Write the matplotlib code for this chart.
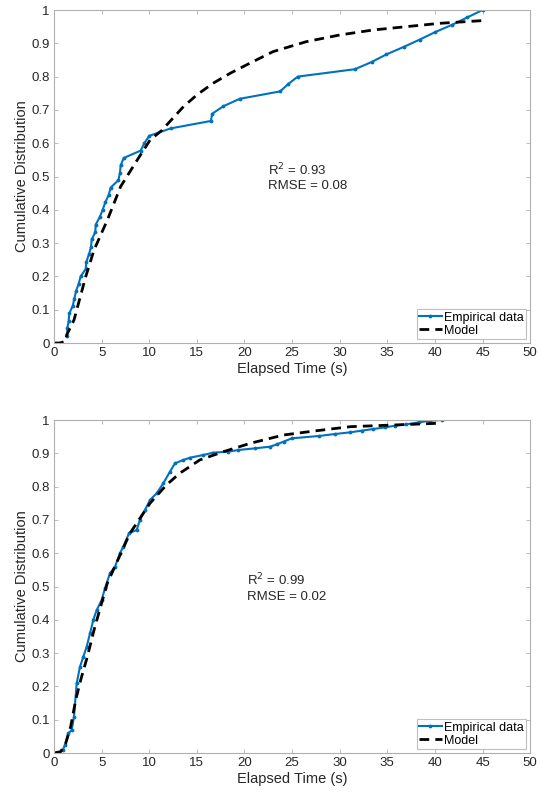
import matplotlib
matplotlib.use("Agg")
import matplotlib.pyplot as plt

plt.rcParams['font.family'] = ['Liberation Sans', 'DejaVu Sans']

# top panel: empirical CDF (45 samples) and fitted model
top_t = [1.40, 1.40, 1.54, 1.61, 1.96, 2.14, 2.31, 2.59, 2.80, 3.33, 3.40, 3.68,
         3.89, 3.96, 4.34, 4.38, 4.80, 5.11, 5.39, 5.74, 5.95, 6.76, 6.93, 7.00,
         7.32, 9.10, 9.49, 10.01, 12.25, 16.46, 16.63, 17.79, 19.50, 23.74, 24.6,
         25.6, 31.6, 33.4, 34.9, 36.7, 38.4, 40.0, 41.8, 43.4, 45.0]
top_cdf = [i / 45 for i in range(1, 46)]

top_model_t = [0, 0.6, 1.2, 1.33, 2.1, 3.33, 4.2, 5.6, 7.0, 8.75, 10.1, 11.3,
               13.6, 15.0, 16.7, 18.5, 20.2, 23.0, 26.5, 30.0, 33.5, 37.0, 40.5, 44.9]
top_model = [0, 0, 0.005, 0.024, 0.069, 0.199, 0.279, 0.369, 0.47, 0.55, 0.61, 0.638,
             0.71, 0.745, 0.78, 0.81, 0.835, 0.875, 0.905, 0.925, 0.94, 0.95, 0.96, 0.968]

# bottom panel
bot_t = [0.91, 1.16, 1.5, 1.86, 2.1, 2.38, 2.73, 3.08, 3.43, 3.78, 4.13, 4.48,
         5.0, 5.36, 5.88, 6.41, 6.93, 7.28, 7.88, 8.68, 9.03, 9.56, 10.08, 10.78,
         11.48, 12.18, 12.7, 13.58, 14.29, 15.68, 16.7, 18.3, 19.36, 21.1, 22.7,
         23.4, 24.1, 24.97, 27.8, 29.5, 31.1, 32.3, 33.5, 34.8, 35.8, 37.0, 38.3,
         39.5, 40.7]
bot_cdf = [0.009, 0.024, 0.059, 0.069, 0.109, 0.209, 0.259, 0.289, 0.319, 0.359,
           0.40, 0.429, 0.459, 0.495, 0.54, 0.56, 0.60, 0.62, 0.66, 0.67, 0.70, 0.73,
           0.76, 0.78, 0.81, 0.845, 0.87, 0.88, 0.887, 0.895, 0.902, 0.905, 0.91,
           0.915, 0.92, 0.927, 0.935, 0.945, 0.952, 0.958, 0.963, 0.968, 0.973,
           0.978, 0.983, 0.987, 0.993, 0.998, 1.0]

bot_model_t = [0, 0.7, 1.23, 1.75, 2.28, 2.8, 3.5, 4.2, 4.9, 5.6, 7.98, 10.08, 11.8,
               13.2, 15.3, 17.8, 20.6, 24.1, 27.6, 31.1, 35.6, 40.2]
bot_model = [0, 0.004, 0.029, 0.079, 0.159, 0.219, 0.289, 0.369, 0.44, 0.51, 0.66,
             0.75, 0.805, 0.84, 0.88, 0.905, 0.93, 0.955, 0.968, 0.98, 0.985, 0.99]

panels = [
    (top_t, top_cdf, top_model_t, top_model, "R$^2$ = 0.93", "RMSE = 0.08", 22.5),
    (bot_t, bot_cdf, bot_model_t, bot_model, "R$^2$ = 0.99", "RMSE = 0.02", 20.3),
]

fig = plt.figure(figsize=(5.42, 7.94), dpi=100)
rects = [[0.0996, 0.568, 0.8786, 0.4194], [0.0996, 0.0516, 0.8786, 0.4194]]
blue = '#0072BD'
grey = '#262626'

for rect, (t, c, mt, m, r2, rmse, tx) in zip(rects, panels):
    ax = fig.add_axes(rect)
    ax.plot(t, c, color=blue, lw=1.5, marker='.', markersize=3.5, label='Empirical data')
    ax.plot(mt, m, color='black', ls=(0, (3.5, 2.2)), lw=2, label='Model')
    ax.set_xlim(0, 50)
    ax.set_ylim(0, 1)
    ax.set_xticks(range(0, 51, 5))
    ax.set_yticks([i / 10 for i in range(11)])
    ax.set_yticklabels(['0', '0.1', '0.2', '0.3', '0.4', '0.5', '0.6', '0.7', '0.8', '0.9', '1'])
    ax.tick_params(direction='in', top=True, right=True, length=3, width=0.6,
                   color='#b0b0b0', labelcolor=grey, labelsize=9.5, pad=3)
    for s in ax.spines.values():
        s.set_color('#b0b0b0')
        s.set_linewidth(0.8)
    ax.set_xlabel('Elapsed Time (s)', fontsize=10.5, color=grey, labelpad=2)
    ax.set_ylabel('Cumulative Distribution', fontsize=10.5, color=grey, labelpad=2)
    ax.text(tx, 0.52, r2, fontsize=9.5, color=grey, va='center')
    ax.text(tx, 0.47, rmse, fontsize=9.5, color=grey, va='center')
    leg = ax.legend(loc='lower right', fontsize=9, frameon=True, fancybox=False,
                    borderpad=0.2, handlelength=1.8, handletextpad=0.2,
                    labelspacing=0.1, borderaxespad=0.3)
    leg.get_frame().set_edgecolor('#b0b0b0')
    leg.get_frame().set_linewidth(0.8)

fig.savefig('out.png', dpi=100)
